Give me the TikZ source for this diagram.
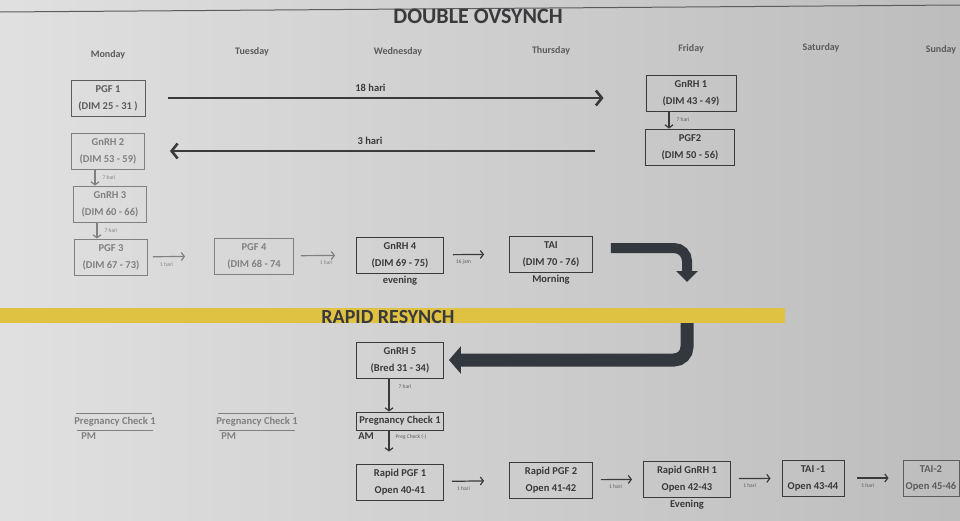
\documentclass[tikz,border=0pt]{standalone}
\usepackage{fontspec}
\setmainfont{Carlito}
\usetikzlibrary{calc, positioning}
\usetikzlibrary{arrows.meta}

\definecolor{inkdark}{RGB}{58,58,60}
\definecolor{inkmid}{RGB}{92,92,94}
\definecolor{inkfade}{RGB}{128,128,130}
\definecolor{bandyellow}{RGB}{224,194,66}
\definecolor{slate}{RGB}{50,56,62}

\newcommand{\dosefont}{\fontsize{10.5}{17}\selectfont\bfseries}
\newcommand{\gapfont}{\fontsize{5.5}{6}\selectfont}

\tikzset{
  dosebox/.style={draw=inkdark, text=inkdark, line width=0.9pt, minimum width=#1,
    minimum height=36pt, inner sep=2pt, align=center, font=\dosefont},
  dosebox/.default=86pt,
  faded/.style={draw=inkfade, text=inkfade},
  dayhead/.style={text=inkmid, font=\fontsize{10}{12}\selectfont\bfseries},
  note/.style={text=inkdark, font=\dosefont, inner sep=2pt},
  checkline/.style={font=\dosefont, minimum height=17pt, inner xsep=0pt, inner ysep=0pt},
  gaplabel/.style={text=inkmid, font=\gapfont, inner sep=1pt},
  longarrow/.style={draw=inkdark, line width=2.6pt, -{Straight Barb[length=6pt, width=15pt]}},
  gaparrow/.style={draw=inkdark, line width=1.2pt, -{Straight Barb[length=3pt, width=8pt]}},
  bentarrow/.style={draw=slate, line width=10pt, rounded corners=13pt,
    -{Triangle[length=11pt, width=21pt]}}
}

\begin{document}
\begin{tikzpicture}[x=1pt, y=-1pt]
  \useasboundingbox (0,0) rectangle (960,520);
  \shade[left color=black!12, right color=black!26] (0,0) rectangle (960,520);
  \draw[inkmid, line width=1pt] (0,12) -- (960,5);

  \node[text=inkdark, font=\fontsize{22}{24}\selectfont\bfseries] (title) at (478,16) {DOUBLE OVSYNCH};

  \foreach \d/\x/\y in {Monday/108/55, Tuesday/252/52, Wednesday/398/52, Thursday/551/51,
      Friday/691/49, Saturday/821/48, Sunday/941/50}
    \node[dayhead] (day-\d) at (\x,\y) {\d};

  % double ovsynch
  \node[dosebox=74pt, draw=inkmid, text=inkmid] (pgf1) at (108,98) {PGF 1\\(DIM 25 - 31 )};
  \node[dosebox=90pt] (gnrh1) at (691,93) {GnRH 1\\(DIM 43 - 49)};
  \node[dosebox=89pt] (pgf2) at (690,147) {PGF2\\(DIM 50 - 56)};
  \node[dosebox=73pt, faded] (gnrh2) at (108,151) {GnRH 2\\(DIM 53 - 59)};
  \node[dosebox=73pt, faded] (gnrh3) at (110,204) {GnRH 3\\(DIM 60 - 66)};
  \node[dosebox=73pt, faded] (pgf3) at (111,257) {PGF 3\\(DIM 67 - 73)};
  \node[dosebox=79pt, faded] (pgf4) at (254,256) {PGF 4\\(DIM 68 - 74};
  \node[dosebox=87pt] (gnrh4) at (400,255) {GnRH 4\\(DIM 69 - 75)};
  \node[dosebox=83pt] (tai) at (551,254) {TAI\\(DIM 70 - 76)};
  \node[note, below=0pt of gnrh4] (eve) {evening};
  \node[note, below=0pt of tai] (morn) {Morning};

  \draw[longarrow, shorten <=23pt, shorten >=42pt] (pgf1.east) -- (pgf1.east -| gnrh1.west)
    node[note, pos=0.45, above=3pt] {18 hari};
  \draw[longarrow, shorten <=50pt, shorten >=25pt] (gnrh2.east -| pgf2.west) -- (gnrh2.east)
    node[note, pos=0.55, above=3pt] {3 hari};

  \draw[gaparrow] ([xshift=-22pt]gnrh1.south) -- ([xshift=-21pt]pgf2.north)
    node[gaplabel, midway, right=6pt] {7 hari};
  \draw[gaparrow, draw=inkfade] ([xshift=-13pt]gnrh2.south) -- ([xshift=-15pt]gnrh3.north)
    node[gaplabel, text=inkfade, midway, right=6pt] {7 hari};
  \draw[gaparrow, draw=inkfade] ([xshift=-13pt]gnrh3.south) -- ([xshift=-14pt]pgf3.north)
    node[gaplabel, text=inkfade, midway, right=6pt] {7 hari};

  \draw[gaparrow, draw=inkfade, shorten <=5pt, shorten >=29pt] (pgf3) -- (pgf4)
    node[gaplabel, text=inkfade, pos=0.28, below=4pt] {1 hari};
  \draw[gaparrow, draw=inkfade, shorten <=7pt, shorten >=21pt] (pgf4) -- (gnrh4)
    node[gaplabel, text=inkfade, pos=0.52, below=4pt] {1 hari};
  \draw[gaparrow, shorten <=9pt, shorten >=25pt] (gnrh4) -- (tai)
    node[gaplabel, pos=0.3, below=4pt] {16 jam};

  % break to the resynch
  \coordinate (taidrop) at (687,282);
  \coordinate (resumetop) at (687,323);
  \draw[bentarrow] ([xshift=18pt, yshift=6pt]tai.east) -| (taidrop);

  \node[dosebox=87pt] (gnrh5) at (400,360) {GnRH 5\\(Bred 31 - 34)};
  \draw[bentarrow, line width=13pt, shorten >=5pt, -{Triangle[length=12pt, width=27pt]}]
    (resumetop) |- (gnrh5.east);

  \fill[bandyellow] (0,308) rectangle (785,323);
  \node[text=inkdark, font=\fontsize{20}{24}\selectfont\bfseries] (resynch) at (388,317) {RAPID RESYNCH};

  % rapid resynch
  \node[dosebox=87pt, minimum height=18pt] (pcwed) at (400,421) {Pregnancy Check 1};
  \node[checkline, text=inkfade] (pcmon) at (115,422) {Pregnancy Check 1};
  \node[checkline, text=inkfade] (pctue) at (257,422) {Pregnancy Check 1};
  \foreach \pc in {pcmon, pctue} {
    \draw[inkfade, line width=0.9pt, shorten <=2pt, shorten >=4pt] (\pc.north west) -- (\pc.north east);
    \draw[inkfade, line width=0.9pt, shorten <=3pt, shorten >=3pt] (\pc.south west) -- (\pc.south east);
  }
  \node[note, text=inkfade, anchor=north west] (pmmon) at ([xshift=5pt]pcmon.south west) {PM};
  \node[note, text=inkfade, anchor=north west] (pmtue) at ([xshift=3pt]pctue.south west) {PM};
  \node[note, anchor=north west] (amwed) at ([xshift=0pt]pcwed.south west) {AM};

  \node[dosebox=87pt] (rpgf1) at (400,482) {Rapid PGF 1\\Open 40-41};
  \node[dosebox=83pt] (rpgf2) at (551,480) {Rapid PGF 2\\Open 41-42};
  \node[dosebox=87pt] (rgnrh1) at (687,479) {Rapid GnRH 1\\Open 42-43};
  \node[dosebox=62pt] (tai1) at (813,478) {TAI -1\\Open 43-44};
  \node[dosebox=56pt, draw=inkmid, text=inkmid] (tai2) at (931,478) {TAI-2\\Open 45-46};
  \node[note, below=0pt of rgnrh1] (eve2) {Evening};

  \draw[gaparrow] ([xshift=-11pt]gnrh5.south) -- ([xshift=-11pt]pcwed.north)
    node[gaplabel, pos=0.25, right=8pt] {7 hari};
  \draw[gaparrow, shorten >=12pt] ([xshift=-11pt]pcwed.south) -- ([xshift=-11pt]rpgf1.north)
    node[gaplabel, pos=0.2, right=5pt] {Preg Check (-)};

  \draw[gaparrow, shorten <=8pt, shorten >=25pt] (rpgf1) -- (rpgf2)
    node[gaplabel, pos=0.3, below=4pt] {1 hari};
  \draw[gaparrow, shorten <=8pt, shorten >=11pt] (rpgf2) -- (rgnrh1)
    node[gaplabel, pos=0.45, below=4pt] {1 hari};
  \draw[gaparrow, shorten <=8pt, shorten >=11pt] (rgnrh1) -- (tai1)
    node[gaplabel, pos=0.37, below=4pt] {1 hari};
  \draw[gaparrow, shorten <=13pt, shorten >=14pt] (tai1) -- (tai2)
    node[gaplabel, pos=0.4, below=4pt] {1 hari};
\end{tikzpicture}
\end{document}
